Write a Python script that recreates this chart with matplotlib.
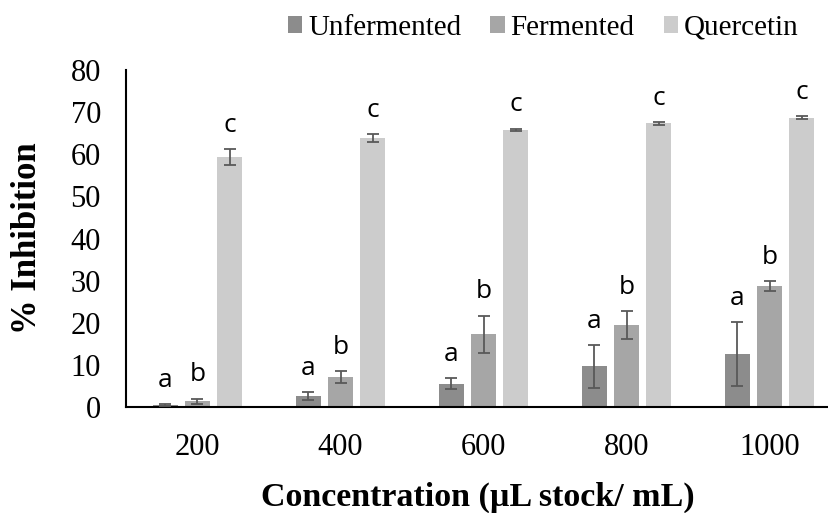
import numpy as np
import matplotlib
matplotlib.use("Agg")
import matplotlib.pyplot as plt

# data
concentrations = ["200", "400", "600", "800", "1000"]
series_names = ["Unfermented", "Fermented", "Quercetin"]

unfermented = [0.5, 2.6, 5.5, 9.7, 12.6]
unfermented_err = [0.2, 1.0, 1.3, 5.1, 7.5]
fermented = [1.4, 7.1, 17.3, 19.5, 28.7]
fermented_err = [0.6, 1.4, 4.4, 3.3, 1.2]
quercetin = [59.3, 63.9, 65.8, 67.3, 68.7]
quercetin_err = [1.9, 0.9, 0.3, 0.3, 0.4]

letters_unf = ["a", "a", "a", "a", "a"]
letters_fer = ["b", "b", "b", "b", "b"]
letters_que = ["c", "c", "c", "c", "c"]

colors = ["#8c8c8c", "#a6a6a6", "#cccccc"]

plt.rcParams["font.family"] = ["Liberation Serif", "DejaVu Serif"]

fig = plt.figure(figsize=(8.29, 5.13), dpi=100)
ax = fig.add_axes([126 / 829, 106 / 513, 703 / 829, 337 / 513])

x = np.arange(len(concentrations))
width = 0.175
step = 0.224

values = [unfermented, fermented, quercetin]
errors = [unfermented_err, fermented_err, quercetin_err]
letters = [letters_unf, letters_fer, letters_que]

for i in range(3):
    pos = x + (i - 1) * step
    ax.bar(pos, values[i], width, color=colors[i], label=series_names[i], zorder=2)
    ax.errorbar(pos, values[i], yerr=errors[i], fmt="none", ecolor="#595959",
                elinewidth=1.3, capsize=4, capthick=1.3, zorder=3)
    for xp, v, e, t in zip(pos, values[i], errors[i], letters[i]):
        ax.annotate(t, (xp, v + e), xytext=(0, 17), textcoords="offset points",
                    ha="center", va="center", fontsize=19, family="Open Sans")

ax.set_xlim(-0.5, 703 / 143 - 0.5)
ax.set_ylim(0, 80)
ax.set_yticks(range(0, 81, 10))
ax.set_xticks(x)
ax.set_xticklabels(concentrations)
ax.tick_params(axis="both", length=0, labelsize=22)
ax.tick_params(axis="x", pad=19)
ax.tick_params(axis="y", pad=18)
for s in ["top", "right"]:
    ax.spines[s].set_visible(False)
ax.spines["left"].set_linewidth(1.5)
ax.spines["bottom"].set_linewidth(1.5)

ax.set_xlabel("Concentration (µL stock/ mL)", fontsize=24.5, fontweight="bold")
ax.xaxis.set_label_coords(0.5, -0.222)
ax.set_ylabel("% Inhibition", fontsize=25, fontweight="bold")
ax.yaxis.set_label_coords(-0.116, 0.5)

fig.legend(loc="upper right", bbox_to_anchor=(799 / 829, 1 - 15 / 513), ncol=3,
           frameon=False, fontsize=21, handlelength=0.5, handleheight=0.5,
           handletextpad=0.2, columnspacing=1.0, borderaxespad=0, borderpad=0)

fig.savefig("out.png", dpi=100)
